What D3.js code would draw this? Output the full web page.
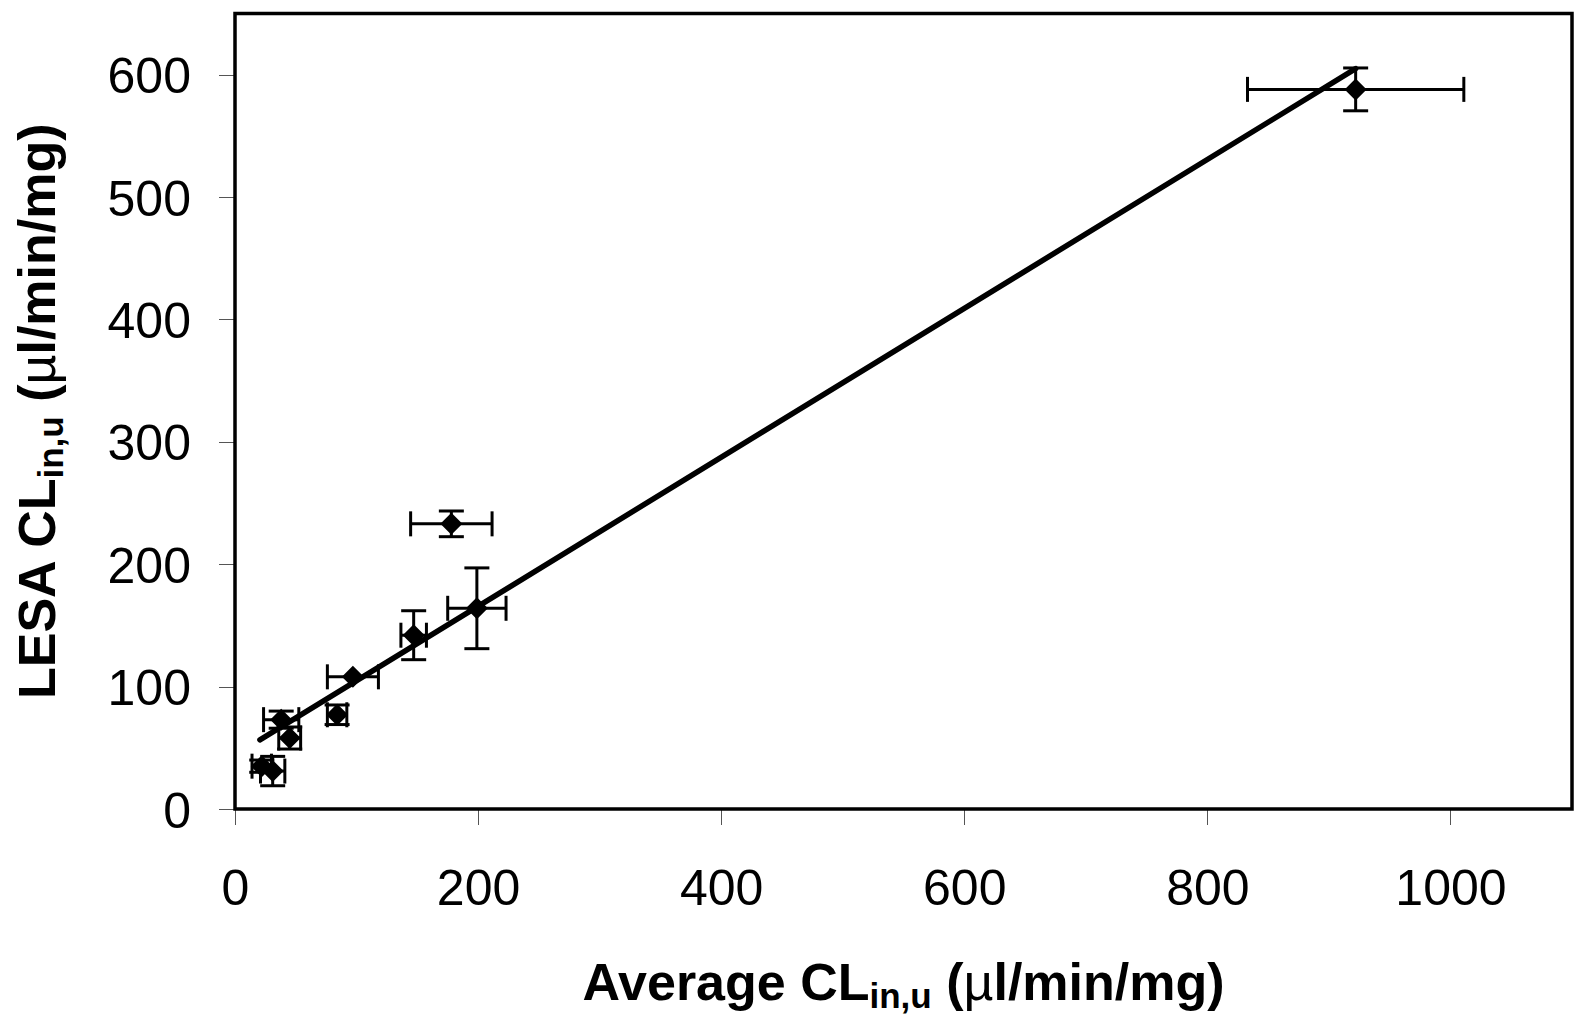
<!DOCTYPE html>
<html>
<head>
  <meta charset="utf-8">
  <script src="https://d3js.org/d3.v7.min.js"></script>
  <style>
    body { margin: 0; background: #fff; }
    .axis text { font-family: "Liberation Sans", Arial, sans-serif; font-size: 50px; fill: #000; }
    .axis line { stroke: #555; stroke-width: 1px; shape-rendering: crispEdges; }
    .axis path { display: none; }
    .title { font-family: "Liberation Sans", Arial, sans-serif; font-weight: bold; font-size: 52px; fill: #000; }
  </style>
</head>
<body>
<div id="chart"></div>
<script>
// values
var xVals = [922, 178, 199, 147, 97, 84, 38, 45, 22, 31];
var yVals = [588, 233, 164, 142, 108, 77, 73, 58, 35, 31];
var xErr  = [89, 33.5, 24, 10.5, 21, 8, 14.5, 9, 8, 10];
var yErr  = [17.5, 10.5, 33, 20, 0, 8, 7, 9, 5, 12];
var xTicks = [0, 200, 400, 600, 800, 1000];
var yTicks = [0, 100, 200, 300, 400, 500, 600];
// linear trend line (slope, intercept)
var fitSlope = 0.6084, fitIntercept = 44.0;

var data = xVals.map(function(d, i) {
  return {x: d, y: yVals[i], ex: xErr[i], ey: yErr[i]};
});

var W = 1575, H = 1021;
var margin = {top: 13.5, right: 3, bottom: 212, left: 235};
var width = W - margin.left - margin.right,
    height = H - margin.top - margin.bottom;

var x = d3.scaleLinear().domain([0, 1100]).range([0, width]);
var y = d3.scaleLinear().domain([0, 650]).range([height, 0]);

var svg = d3.select("#chart").append("svg")
    .attr("width", W)
    .attr("height", H)
  .append("g")
    .attr("transform", "translate(" + margin.left + "," + margin.top + ")");

svg.append("g")
    .attr("class", "x axis")
    .attr("transform", "translate(0," + height + ")")
    .call(d3.axisBottom(x).tickValues(xTicks).tickFormat(d3.format("d"))
      .tickSize(16).tickSizeOuter(0).tickPadding(44));

svg.append("g")
    .attr("class", "y axis")
    .call(d3.axisLeft(y).tickValues(yTicks).tickFormat(d3.format("d"))
      .tickSize(16).tickSizeOuter(0).tickPadding(28));

svg.selectAll(".y.axis text").attr("dy", "0.36em");

// plot frame
svg.append("rect")
    .attr("x", 0).attr("y", 0)
    .attr("width", width).attr("height", height)
    .attr("fill", "none")
    .attr("stroke", "#000")
    .attr("stroke-width", 3.5);

// trend line over the data range
var xr = d3.extent(xVals);
svg.append("line")
    .attr("x1", x(xr[0] - 1.5)).attr("y1", y(fitSlope * (xr[0] - 1.5) + fitIntercept))
    .attr("x2", x(xr[1])).attr("y2", y(fitSlope * xr[1] + fitIntercept))
    .attr("stroke", "#000")
    .attr("stroke-width", 5.5)
    .attr("stroke-linecap", "round");

// error bars
var cap = 12.5;
var eb = svg.append("g").attr("stroke", "#000").attr("stroke-width", 3).attr("fill", "none");
data.forEach(function(d) {
  if (d.ex > 0) {
    eb.append("line").attr("x1", x(d.x - d.ex)).attr("x2", x(d.x + d.ex)).attr("y1", y(d.y)).attr("y2", y(d.y));
    eb.append("line").attr("x1", x(d.x - d.ex)).attr("x2", x(d.x - d.ex)).attr("y1", y(d.y) - cap).attr("y2", y(d.y) + cap);
    eb.append("line").attr("x1", x(d.x + d.ex)).attr("x2", x(d.x + d.ex)).attr("y1", y(d.y) - cap).attr("y2", y(d.y) + cap);
  }
  if (d.ey > 0) {
    eb.append("line").attr("x1", x(d.x)).attr("x2", x(d.x)).attr("y1", y(d.y - d.ey)).attr("y2", y(d.y + d.ey));
    eb.append("line").attr("x1", x(d.x) - cap).attr("x2", x(d.x) + cap).attr("y1", y(d.y - d.ey)).attr("y2", y(d.y - d.ey));
    eb.append("line").attr("x1", x(d.x) - cap).attr("x2", x(d.x) + cap).attr("y1", y(d.y + d.ey)).attr("y2", y(d.y + d.ey));
  }
});

// diamond markers
var r = 11;
svg.selectAll(".pt")
    .data(data)
  .enter().append("path")
    .attr("class", "pt")
    .attr("d", "M0," + (-r) + "L" + r + ",0L0," + r + "L" + (-r) + ",0Z")
    .attr("transform", function(d) { return "translate(" + x(d.x) + "," + y(d.y) + ")"; })
    .attr("fill", "#000");

// axis titles
function addTitle(sel, main, sub, rest) {
  sel.append("tspan").text(main);
  sel.append("tspan").attr("font-size", "35px").attr("dy", 8).text(sub);
  sel.append("tspan").attr("dy", -8).text(" (");
  sel.append("tspan").attr("font-weight", "normal").text("\u00b5");
  sel.append("tspan").text(rest);
}

var xt = svg.append("text")
    .attr("class", "title")
    .attr("x", width / 2)
    .attr("y", H - margin.top - 21)
    .style("text-anchor", "middle");
addTitle(xt, "Average CL", "in,u", "l/min/mg)");

var yt = svg.append("text")
    .attr("class", "title")
    .attr("transform", "translate(" + (55 - margin.left) + "," + (height / 2) + ") rotate(-90)")
    .style("text-anchor", "middle");
addTitle(yt, "LESA CL", "in,u", "l/min/mg)");
</script>
</body>
</html>
